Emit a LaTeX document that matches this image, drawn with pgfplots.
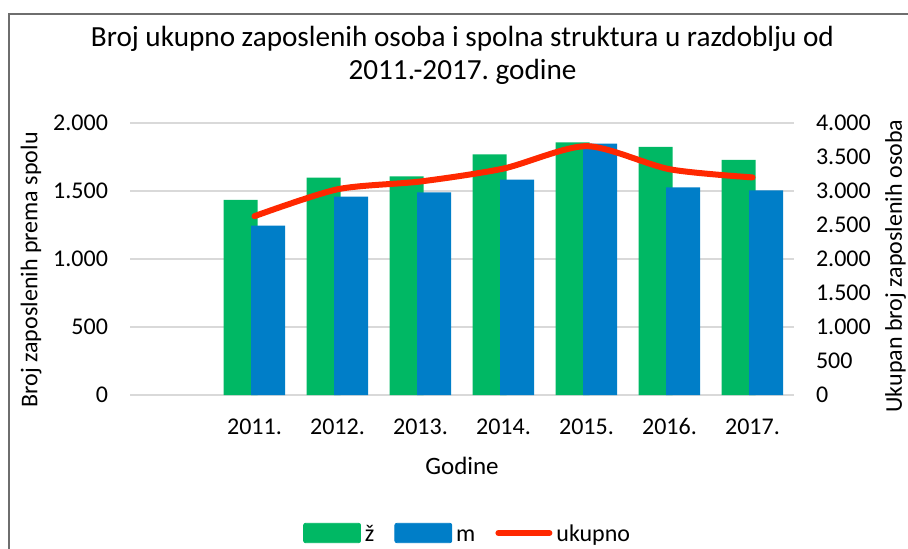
\documentclass[border=0pt]{standalone}
\usepackage{fontspec}
\setmainfont{Carlito}
\usepackage{pgfplots}
\pgfplotsset{compat=1.18}
\definecolor{cgreen}{RGB}{0,184,100}
\definecolor{cblue}{RGB}{0,126,200}
\definecolor{cred}{RGB}{255,40,0}
\definecolor{cgrid}{RGB}{217,217,217}
\definecolor{cframe}{RGB}{110,110,110}
\frenchspacing
\begin{document}
\begin{tikzpicture}
\useasboundingbox (0,0) rectangle (454pt,-274.5pt);
\draw[cframe, line width=0.8pt] (4.35pt,-280pt) -- (4.35pt,-7pt) -- (460pt,-7pt);
\node[anchor=base, inner sep=0pt, font=\fontsize{14.6}{16}\selectfont] at (231.25pt,-23.35pt) {Broj ukupno zaposlenih osoba i spolna struktura u razdoblju od};
\node[anchor=base, inner sep=0pt, font=\fontsize{14.6}{16}\selectfont] at (231.25pt,-40pt) {2011.-2017. godine};
\begin{axis}[
  at={(65pt,-197.5pt)}, anchor=south west,
  scale only axis, width=332pt, height=136pt,
  xmin=-0.5, xmax=7.5, ymin=0, ymax=2000,
  xtick={1,2,3,4,5,6,7},
  xticklabels={2011.,2012.,2013.,2014.,2015.,2016.,2017.},
  ytick={0,500,1000,1500,2000},
  ymajorgrids, major grid style={cgrid, line width=0.75pt},
  axis line style={draw=none}, major tick length=0pt,
  tick label style={font=\fontsize{12}{14}\selectfont},
  /pgf/number format/1000 sep={.},
  /pgf/number format/assume math mode=true,
  xticklabel style={anchor=base, yshift=-19.6pt},
  yticklabel style={xshift=-7.5pt},
  xlabel={Godine},
  xlabel style={at={(axis description cs:0.5,-0.294)}, anchor=base, font=\fontsize{12.5}{14}\selectfont},
  ylabel={Broj zaposlenih prema spolu},
  ylabel style={at={(axis description cs:-0.149,0.46)}, anchor=center, font=\fontsize{12}{14}\selectfont},
]
\addplot[ybar, bar width=17pt, bar shift=-7pt, fill=cgreen, draw=none]
  coordinates {(1,1434) (2,1598) (3,1608) (4,1770) (5,1858) (6,1824) (7,1728)};
\addplot[ybar, bar width=17pt, bar shift=6.8pt, fill=cblue, draw=none]
  coordinates {(1,1245) (2,1458) (3,1490) (4,1583) (5,1848) (6,1527) (7,1505)};
\end{axis}
\begin{axis}[
  at={(65pt,-197.5pt)}, anchor=south west,
  scale only axis, width=332pt, height=136pt,
  xmin=-0.5, xmax=7.5, ymin=0, ymax=4000,
  ytick={0,500,1000,1500,2000,2500,3000,3500,4000},
  hide x axis,
  axis y line*=right,
  axis line style={draw=none}, major tick length=0pt,
  tick label style={font=\fontsize{12}{14}\selectfont},
  /pgf/number format/1000 sep={.},
  /pgf/number format/assume math mode=true,
  yticklabel style={xshift=7.5pt},
  ylabel={Ukupan broj zaposlenih osoba},
  ylabel style={at={(axis description cs:1.153,0.474)}, anchor=center, font=\fontsize{12}{14}\selectfont},
  legend columns=-1,
  legend style={at={(0.51,-0.518)}, anchor=center, draw=none, fill=none,
    font=\fontsize{12}{14}\selectfont,
    nodes={text height=8.4pt, text depth=2.5pt},
    /tikz/every even column/.append style={column sep=8pt}},
]
\addlegendimage{legend image code/.code={\fill[cgreen, rounded corners=1pt] (0pt,-3.4pt) rectangle (28.5pt,6.3pt);}}
\addlegendentry{ž}
\addlegendimage{legend image code/.code={\fill[cblue, rounded corners=1pt] (0pt,-3.4pt) rectangle (28.5pt,6.3pt);}}
\addlegendentry{m}
\addplot[cred, line width=3pt, line cap=round, line join=round, smooth, tension=0.45,
  legend image code/.code={\draw[cred, line width=3pt, line cap=round] (1.5pt,1.45pt) -- (27pt,1.45pt);}]
  coordinates {(1,2630) (2,3025) (3,3140) (4,3330) (5,3660) (6,3320) (7,3200)};
\addlegendentry{ukupno}
\end{axis}
\end{tikzpicture}
\end{document}
